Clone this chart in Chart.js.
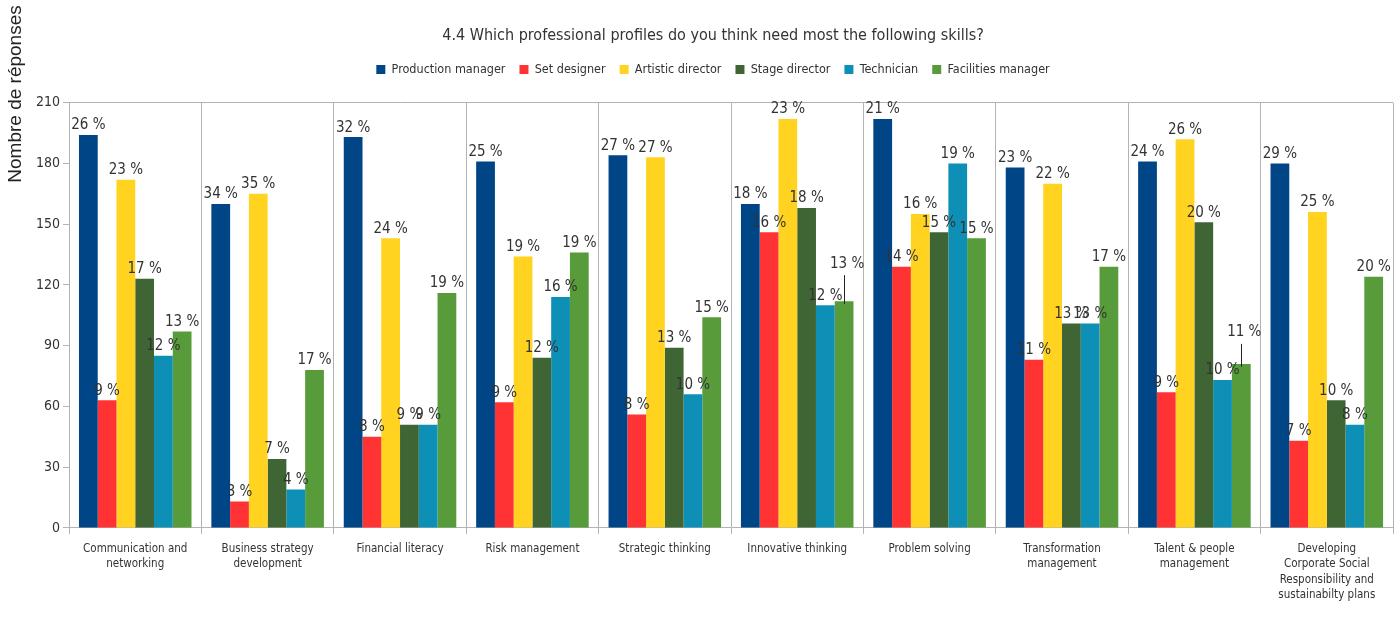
<!DOCTYPE html>
<html lang="en">
<head>
    <meta charset="UTF-8">
    <title>4.4 Professional profiles</title>
    <script src="https://cdn.jsdelivr.net/npm/chart.js@4.4.0/dist/chart.umd.min.js"></script>
<style>
    html, body{
        margin:0;
        padding:0;
        background:#fff;
    }
    #board{
        width:1397px;
        height:617px;
    }
</style>
</head>
<body>
    <div id="board">
        <canvas id="chart1" width="1397" height="617"></canvas>
    </div>
</body>
</html>
<script>
    const skills = [
        ['Communication and', 'networking'],
        ['Business strategy', 'development'],
        'Financial literacy',
        'Risk management',
        'Strategic thinking',
        'Innovative thinking',
        'Problem solving',
        ['Transformation', 'management'],
        ['Talent & people', 'management'],
        ['Developing', 'Corporate Social', 'Responsibility and', 'sustainabilty plans']
    ];
    const profiles = ['Production manager', 'Set designer', 'Artistic director', 'Stage director', 'Technician', 'Facilities manager'];

    // number of answers per skill
    const productionManager = [194, 160, 193, 181, 184, 160, 202, 178, 181, 180];
    const setDesigner       = [ 63,  13,  45,  62,  56, 146, 129,  83,  67,  43];
    const artisticDirector  = [172, 165, 143, 134, 183, 202, 155, 170, 192, 156];
    const stageDirector     = [123,  34,  51,  84,  89, 158, 146, 101, 151,  63];
    const technician        = [ 85,  19,  51, 114,  66, 110, 180, 101,  73,  51];
    const facilitiesManager = [ 97,  78, 116, 136, 104, 112, 143, 129,  81, 124];

    const yTicks = [0, 30, 60, 90, 120, 150, 180, 210];

    const series = [productionManager, setDesigner, artisticDirector, stageDirector, technician, facilitiesManager];
    const colors = ['#004586', '#ff3333', '#ffd320', '#406535', '#0e90b6', '#579b3b'];

    const narrow = '"Liberation Sans Narrow", "DejaVu Sans Condensed", sans-serif';

    // share of each profile inside one skill, in %
    const totals = skills.map((s, i) => series.reduce((a, arr) => a + arr[i], 0));

    const percentLabels = {
        id: 'percentLabels',
        afterDatasetsDraw(chart, args, opts) {
            const ctx = chart.ctx;
            ctx.save();
            ctx.font = '15px ' + narrow;
            ctx.fillStyle = '#333';
            ctx.strokeStyle = '#222';
            ctx.lineWidth = 1;
            ctx.textAlign = 'center';
            ctx.textBaseline = 'bottom';
            chart.data.datasets.forEach((ds, d) => {
                chart.getDatasetMeta(d).data.forEach((bar, i) => {
                    const pct = Math.round(ds.data[i] / totals[i] * 100);
                    const lift = (opts.lifted.find(l => l[0] === i && l[1] === d) || [0, 0, 0])[2];
                    const y = bar.y - 2 - lift;
                    if (lift) {
                        ctx.beginPath();
                        ctx.moveTo(Math.round(bar.x) + 0.5, y + 4);
                        ctx.lineTo(Math.round(bar.x) + 0.5, bar.y + 3);
                        ctx.stroke();
                    }
                    ctx.fillText(pct + ' %', bar.x + (lift ? 3 : 0), y);
                });
            });
            ctx.restore();
        }
    };

    const sideTitle = {
        id: 'sideTitle',
        afterDraw(chart) {
            const ctx = chart.ctx;
            ctx.save();
            ctx.translate(16, 94);
            ctx.rotate(-Math.PI / 2);
            ctx.font = '19px "Liberation Sans", Arial, sans-serif';
            ctx.fillStyle = '#222';
            ctx.textAlign = 'center';
            ctx.textBaseline = 'middle';
            ctx.fillText('Nombre de réponses', 0, 0);
            ctx.restore();
        }
    };

    // a bit more room under the legend
    const legendGap = {
        id: 'legendGap',
        beforeInit(chart) {
            const fit = chart.legend.fit;
            chart.legend.fit = function () {
                fit.bind(this)();
                this.height += 17;
            };
        }
    };

    const ctx = document.getElementById('chart1').getContext('2d');

    new Chart(ctx, {
        type: 'bar',
        data: {
            labels: skills,
            datasets: profiles.map((p, k) => ({
                label: p,
                data: series[k],
                backgroundColor: colors[k],
                borderWidth: 0,
                categoryPercentage: 0.85,
                barPercentage: 1.0
            }))
        },
        plugins: [legendGap, percentLabels, sideTitle],
        options: {
            responsive: false,
            animation: false,
            layout: {
                padding: { left: 33, right: 4, top: 0, bottom: 7 }
            },
            plugins: {
                title: {
                    display: true,
                    text: '4.4 Which professional profiles do you think need most the following skills?',
                    color: '#333',
                    font: { family: narrow, size: 16, weight: 'normal' },
                    padding: { top: 26, bottom: 4 }
                },
                legend: {
                    labels: {
                        color: '#333',
                        font: { family: narrow, size: 12.5 },
                        boxWidth: 9,
                        boxHeight: 9,
                        padding: 14
                    }
                },
                tooltip: { enabled: false },
                percentLabels: {
                    lifted: [[5, 5, 28], [8, 5, 22]]
                }
            },
            scales: {
                x: {
                    grid: {
                        offset: true,
                        color: '#b3b3b3',
                        tickLength: 6
                    },
                    border: { color: '#b3b3b3' },
                    ticks: {
                        color: '#333',
                        font: { family: narrow, size: 11.5, lineHeight: 1.35 },
                        padding: 7,
                        maxRotation: 0,
                        autoSkip: false
                    }
                },
                y: {
                    min: 0,
                    max: 210,
                    afterBuildTicks(axis) {
                        axis.ticks = yTicks.map(v => ({ value: v }));
                    },
                    grid: {
                        color: c => (c.tick && c.tick.value === 210) ? '#b3b3b3' : 'rgba(0,0,0,0)',
                        tickColor: '#b3b3b3',
                        tickLength: 6
                    },
                    border: { color: '#b3b3b3' },
                    ticks: {
                        color: '#333',
                        font: { family: narrow, size: 14 },
                        padding: 3
                    }
                }
            }
        }
    });
</script>
